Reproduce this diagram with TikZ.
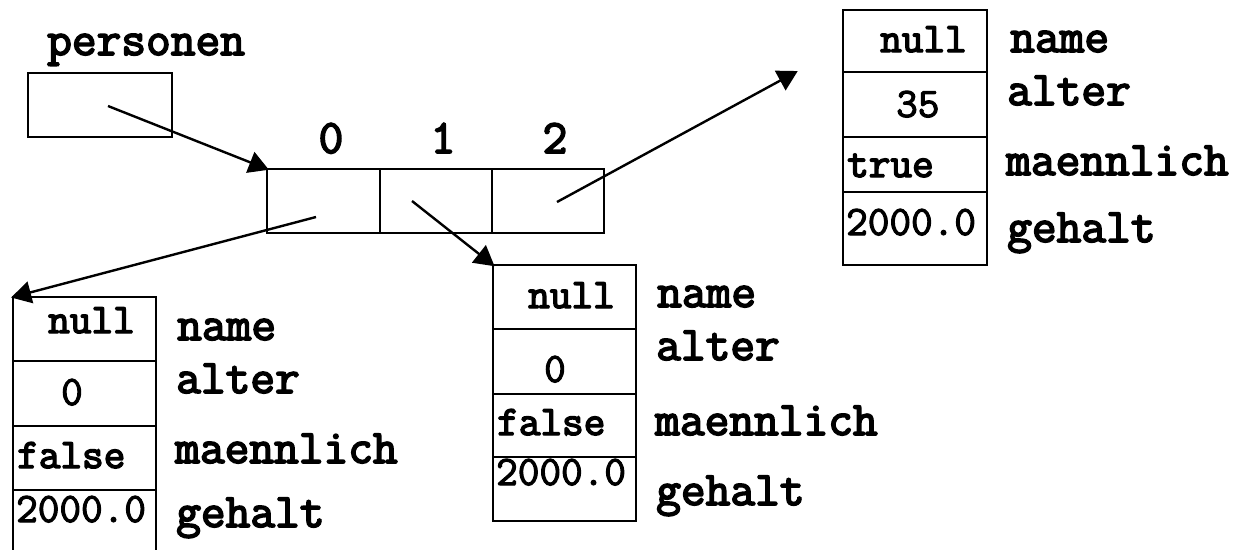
\documentclass[tikz,border=0pt]{standalone}
\usepackage{fontspec}
\newfontfamily\typewr{Latin Modern Mono}[FakeBold=3.5]
\newfontfamily\typewrnum{Latin Modern Mono}[FakeBold=2.6]
\usetikzlibrary{arrows.meta}
\tikzset{
  box/.style={draw, line width=2.6pt, inner sep=0pt, outer sep=0pt, anchor=north west},
  ptr/.style={line width=2.4pt, -{Triangle[length=20pt,width=22pt]}, shorten >=-2pt},
  lbl/.style={inner sep=0pt, anchor=base west, font=\fontsize{48}{50}\selectfont\typewr},
  idx/.style={inner sep=0pt, anchor=base, font=\fontsize{48}{50}\selectfont\typewr},
  val/.style={inner sep=0pt, anchor=base west, font=\fontsize{42}{44}\selectfont\typewr},
  num/.style={inner sep=0pt, anchor=base west, font=\fontsize{42}{44}\selectfont\typewrnum},
  numc/.style={num, anchor=base},
}
\begin{document}
\begin{tikzpicture}[x=1pt,y=-1pt]
\clip (0,0) rectangle (1241,549);
\fill[white] (0,0) rectangle (1241,549);

% reference variable
\node[lbl] (pname) at (47,55) {personen};
\node[box, minimum width=144pt, minimum height=64pt] (pers) at (28,73) {};

% array with three slots
\node[box, minimum width=113pt, minimum height=64pt] (a0) at (267,169) {};
\node[box, minimum width=112pt, minimum height=64pt] (a1) at (380,169) {};
\node[box, minimum width=112pt, minimum height=64pt] (a2) at (492,169) {};
\node[idx] (i0) at (331,153) {0};
\node[idx] (i1) at (443,153) {1};
\node[idx] (i2) at (555,153) {2};

% object at index 0
\node[box, minimum width=143pt, minimum height=64pt] (o0a) at (13,297) {};
\node[box, minimum width=143pt, minimum height=65pt] (o0b) at (13,361) {};
\node[box, minimum width=143pt, minimum height=64pt] (o0c) at (13,426) {};
\node[box, minimum width=143pt, minimum height=65pt] (o0d) at (13,490) {};
\node[val] (o0v1) at (48,333) {null};
\node[numc] (o0v2) at (72,405) {0};
\node[val] (o0v3) at (17,468) {false};
\node[num] (o0v4) at (16,522) {2000.0};
\node[lbl] (o0l1) at (177,340) {name};
\node[lbl] (o0l2) at (176,393) {alter};
\node[lbl] (o0l3) at (175,463) {maennlich};
\node[lbl] (o0l4) at (176,527) {gehalt};

% object at index 1
\node[box, minimum width=143pt, minimum height=64pt] (o1a) at (493,265) {};
\node[box, minimum width=143pt, minimum height=65pt] (o1b) at (493,329) {};
\node[box, minimum width=143pt, minimum height=63pt] (o1c) at (493,394) {};
\node[box, minimum width=143pt, minimum height=64pt] (o1d) at (493,457) {};
\node[val] (o1v1) at (528,308) {null};
\node[numc] (o1v2) at (555,382) {0};
\node[val] (o1v3) at (497,435) {false};
\node[num] (o1v4) at (496,485) {2000.0};
\node[lbl] (o1l1) at (657,307) {name};
\node[lbl] (o1l2) at (656,360) {alter};
\node[lbl] (o1l3) at (655,435) {maennlich};
\node[lbl] (o1l4) at (656,505) {gehalt};

% object at index 2
\node[box, minimum width=144pt, minimum height=62pt] (o2a) at (843,10) {};
\node[box, minimum width=144pt, minimum height=65pt] (o2b) at (843,72) {};
\node[box, minimum width=144pt, minimum height=55pt] (o2c) at (843,137) {};
\node[box, minimum width=144pt, minimum height=73pt] (o2d) at (843,192) {};
\node[val] (o2v1) at (880,52) {null};
\node[num] (o2v2) at (896,117) {35};
\node[val] (o2v3) at (847,177) {true};
\node[num] (o2v4) at (846,235) {2000.0};
\node[lbl] (o2l1) at (1010,52) {name};
\node[lbl] (o2l2) at (1007,105) {alter};
\node[lbl] (o2l3) at (1006,175) {maennlich};
\node[lbl] (o2l4) at (1007,242) {gehalt};

% reference starting points
\coordinate (sp) at (108,106);
\coordinate (s0) at (316,217);
\coordinate (s1) at (412,201);
\coordinate (s2) at (557,202);
\coordinate (t2) at (796,72);

\draw[ptr] (sp) -- (a0.north west);
\draw[ptr] (s0) -- (o0a.north west);
\draw[ptr] (s1) -- (o1a.north west);
\draw[ptr] (s2) -- (t2);
\end{tikzpicture}
\end{document}
